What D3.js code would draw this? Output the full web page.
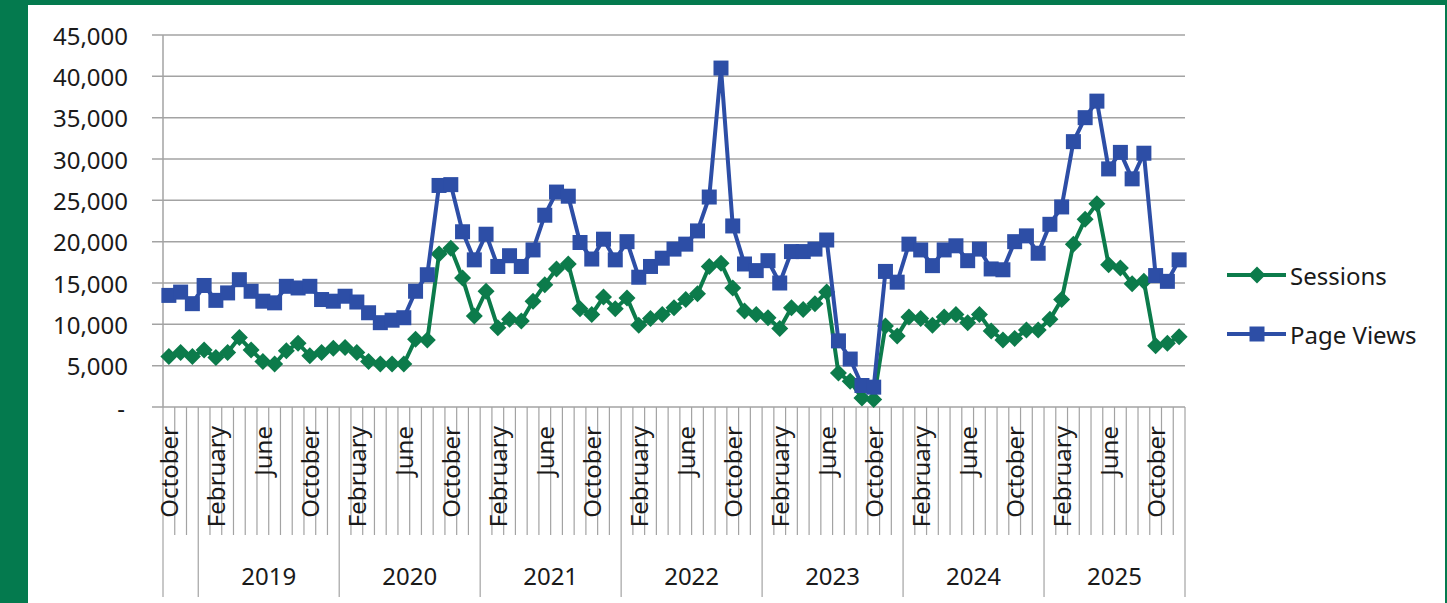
<!DOCTYPE html>
<html lang="en">
<head>
<meta charset="utf-8">
<title>Sessions and Page Views</title>
<script src="https://d3js.org/d3.v7.min.js"></script>
<style>
  body { margin: 0; }
  #chart text { font-family: "Noto Sans", sans-serif; fill: #1a1a1a; }
</style>
</head>
<body>
<div id="chart"></div>
<script>
"use strict"

// months, October 2018 .. December 2025
var monthNames = ["January", "February", "March", "April", "May", "June",
  "July", "August", "September", "October", "November", "December"];
var years = ["2018", "2019", "2020", "2021", "2022", "2023", "2024", "2025"];

var pageViews = [
  13500, 13900, 12500,
  14700, 12900, 13800, 15400, 14000, 12800, 12600, 14600, 14400, 14600, 13000, 12800,
  13400, 12700, 11400, 10200, 10500, 10800, 14000, 16000, 26800, 26900, 21200, 17800,
  20900, 17000, 18300, 17000, 19000, 23200, 26000, 25500, 19900, 17900, 20300, 17800,
  20000, 15700, 17000, 18000, 19100, 19700, 21300, 25400, 41000, 21900, 17300, 16500,
  17700, 15000, 18800, 18800, 19100, 20200, 8000, 5800, 2600, 2400, 16400, 15100,
  19700, 19000, 17100, 19000, 19500, 17700, 19100, 16700, 16600, 20000, 20700, 18600,
  22100, 24200, 32100, 35000, 37000, 28800, 30800, 27600, 30700, 15900, 15200, 17800
];

var sessions = [
  6100, 6600, 6100,
  6900, 6000, 6600, 8400, 6900, 5500, 5200, 6800, 7700, 6200, 6600, 7100,
  7200, 6600, 5500, 5200, 5200, 5200, 8200, 8100, 18500, 19200, 15600, 11000,
  14000, 9600, 10600, 10400, 12800, 14800, 16700, 17300, 11900, 11200, 13300, 11900,
  13200, 9900, 10700, 11200, 12000, 13000, 13700, 17000, 17400, 14400, 11600, 11200,
  10800, 9500, 12000, 11800, 12500, 13900, 4100, 3100, 1100, 900, 9800, 8600,
  10900, 10700, 9900, 10900, 11200, 10200, 11200, 9200, 8100, 8300, 9300, 9300,
  10600, 13000, 19700, 22700, 24600, 17200, 16800, 14900, 15200, 7400, 7700, 8500
];

var yTicks = [0, 5000, 10000, 15000, 20000, 25000, 30000, 35000, 40000, 45000];

var categories = [];
years.forEach(function(yr) {
  monthNames.forEach(function(m, mi) {
    if (yr === "2018" && mi < 9) return;
    categories.push({ year: yr, month: m });
  });
});

var W = 1447, H = 603;
var green = "#0c7b4b", blue = "#2d4ea6", gridCol = "#a3a3a3";

var svg = d3.select("#chart").append("svg")
  .attr("width", W).attr("height", H);

// frame
svg.append("rect").attr("width", W).attr("height", H).attr("fill", "#047a4e");
svg.append("rect").attr("x", 28).attr("y", 5).attr("width", 1417).attr("height", H - 5).attr("fill", "#fff");

var x = d3.scaleBand()
  .domain(d3.range(categories.length))
  .range([163, 1185])
  .padding(0);

var y = d3.scaleLinear()
  .domain([0, 45000])
  .range([407, 35]);

var cx = function(i) { return x(i) + x.bandwidth() / 2; };

// horizontal gridlines + y labels
svg.append("g").selectAll("line")
  .data(yTicks)
  .join("line")
    .attr("x1", 152).attr("x2", 1185)
    .attr("y1", d => y(d)).attr("y2", d => y(d))
    .attr("stroke", gridCol).attr("stroke-width", 1.5);

svg.append("g").selectAll("text")
  .data(yTicks)
  .join("text")
    .attr("x", d => d === 0 ? 125 : 128)
    .attr("y", d => y(d))
    .attr("text-anchor", "end")
    .attr("dominant-baseline", "central")
    .style("font-size", "24px")
    .text(d => d === 0 ? "-" : d3.format(",")(d));

// vertical axis line
svg.append("line")
  .attr("x1", 163).attr("x2", 163).attr("y1", y(45000)).attr("y2", 407)
  .attr("stroke", gridCol).attr("stroke-width", 1.5);

// month boundaries in the label area
var cats = svg.append("g");
cats.selectAll("line")
  .data(d3.range(categories.length + 1))
  .join("line")
    .attr("x1", i => 163 + i * x.bandwidth())
    .attr("x2", i => 163 + i * x.bandwidth())
    .attr("y1", 407)
    .attr("y2", function(i) {
      var edge = i === 0 || i === categories.length ||
        categories[i].year !== categories[i - 1].year;
      return edge ? 597 : 535;
    })
    .attr("stroke", gridCol).attr("stroke-width", 1.2);

// month labels, every fourth month
cats.selectAll("text")
  .data(categories.map((c, i) => ({ c: c, i: i })).filter(d => d.i % 4 === 0))
  .join("text")
    .attr("transform", d => "translate(" + cx(d.i) + ",426) rotate(-90)")
    .attr("text-anchor", "end")
    .attr("dominant-baseline", "central")
    .style("font-size", "24px")
    .text(d => d.c.month);

// year labels
var groups = d3.groups(categories.map((c, i) => ({ year: c.year, i: i })), d => d.year);
svg.append("g").selectAll("text")
  .data(groups.filter(g => g[1].length >= 12))
  .join("text")
    .attr("x", g => (x(g[1][0].i) + x(g[1][g[1].length - 1].i) + x.bandwidth()) / 2)
    .attr("y", 575)
    .attr("text-anchor", "middle")
    .attr("dominant-baseline", "central")
    .style("font-size", "24px")
    .text(g => g[0]);

// series
var line = d3.line().x((d, i) => cx(i)).y(d => y(d));

function diamond(r) {
  return "M0," + (-r) + "L" + r + ",0L0," + r + "L" + (-r) + ",0Z";
}

svg.append("path").datum(sessions)
  .attr("d", line).attr("fill", "none")
  .attr("stroke", green).attr("stroke-width", 4).attr("stroke-linejoin", "round");

svg.append("g").selectAll("path")
  .data(sessions)
  .join("path")
    .attr("d", diamond(8.5))
    .attr("transform", (d, i) => "translate(" + cx(i) + "," + y(d) + ")")
    .attr("fill", green);

svg.append("path").datum(pageViews)
  .attr("d", line).attr("fill", "none")
  .attr("stroke", blue).attr("stroke-width", 4).attr("stroke-linejoin", "round");

svg.append("g").selectAll("rect")
  .data(pageViews)
  .join("rect")
    .attr("x", (d, i) => cx(i) - 7.5)
    .attr("y", d => y(d) - 7.5)
    .attr("width", 15).attr("height", 15)
    .attr("fill", blue);

// legend
var legend = [
  { name: "Sessions", color: green, shape: "diamond", y: 275 },
  { name: "Page Views", color: blue, shape: "square", y: 334 }
];
var lg = svg.append("g").selectAll("g")
  .data(legend)
  .join("g")
    .attr("transform", d => "translate(0," + d.y + ")");
lg.append("line")
  .attr("x1", 1227).attr("x2", 1286)
  .attr("stroke", d => d.color).attr("stroke-width", 4);
lg.append("path")
  .attr("d", d => d.shape === "diamond" ? diamond(8.5) : "M-7.5,-7.5h15v15h-15Z")
  .attr("transform", "translate(1257,0)")
  .attr("fill", d => d.color);
lg.append("text")
  .attr("x", 1290)
  .attr("dominant-baseline", "central")
  .style("font-size", "24px")
  .text(d => d.name);
</script>
</body>
</html>
